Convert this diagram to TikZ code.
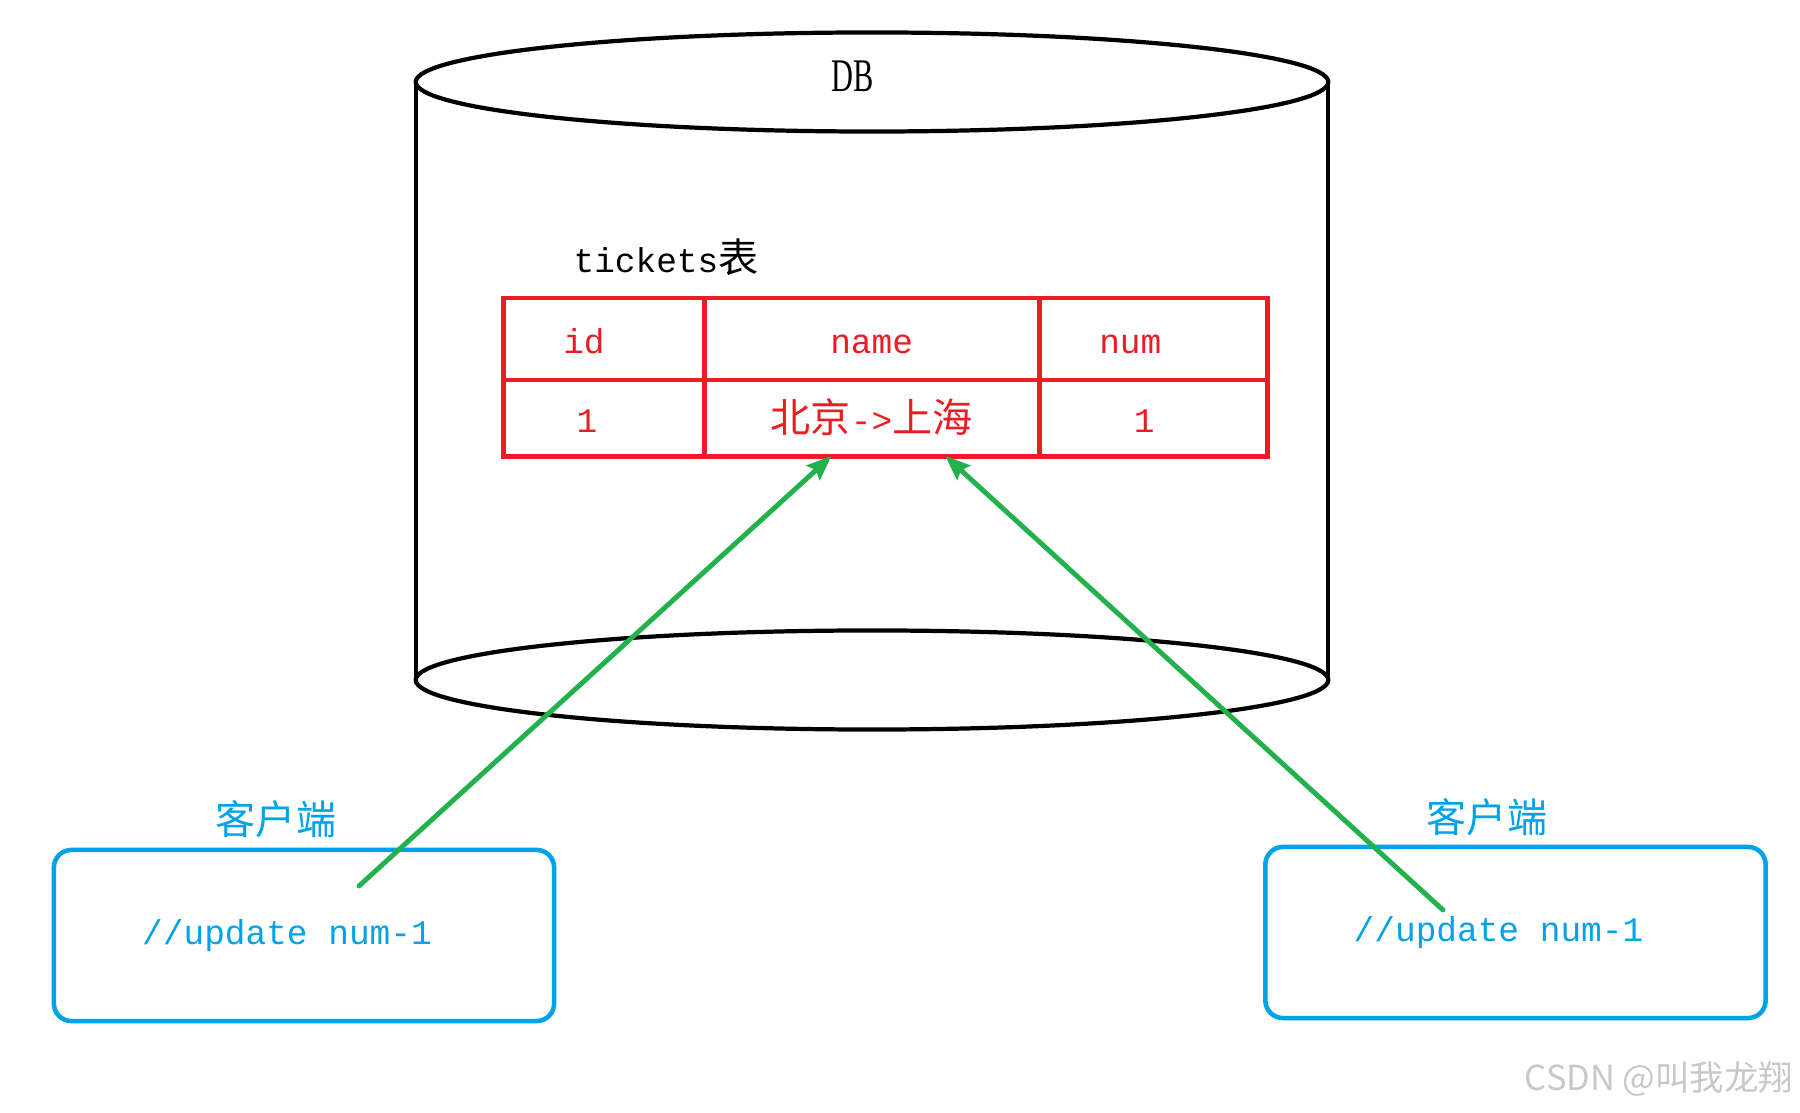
\documentclass[tikz,border=0pt]{standalone}
\usepackage{fontspec}
\usepackage{graphicx}
\setmainfont{Liberation Serif}
\setmonofont{Liberation Mono}
\newfontfamily\cjk{Noto Sans CJK SC}
\usetikzlibrary{arrows.meta,positioning,calc}
\definecolor{PaintRed}{HTML}{ED1C24}
\definecolor{PaintGreen}{HTML}{22B14C}
\definecolor{PaintBlue}{HTML}{00A2E8}
\definecolor{MarkGray}{HTML}{C8C8C8}
\newcommand{\latinsize}{\fontsize{9.8}{12}\selectfont}
\newcommand{\hansize}{\fontsize{11.4}{13}\selectfont}

\begin{document}
\begin{tikzpicture}[x=0.01cm,y=0.01cm,>=Stealth]
    \tikzset{
      cell/.style={draw=PaintRed,line width=1.4pt,text=PaintRed,outer sep=0pt,inner sep=0pt,
        minimum height=0.82cm,text height=10pt,text depth=1.8pt,font=\latinsize\ttfamily},
      client/.style={draw=PaintBlue,line width=1.3pt,rounded corners=5pt,text=PaintBlue,
        minimum width=5cm,minimum height=1.71cm,font=\latinsize\ttfamily},
      clientlabel/.style={text=PaintBlue,font=\hansize\cjk},
      update/.style={-{Stealth[length=7pt,width=5.5pt,inset=1pt]},PaintGreen,line width=1.4pt,line cap=round}
    }
    \useasboundingbox (0,0) rectangle (1800,1112);
    % database cylinder
    \draw[line width=1.2pt] (416,1030) -- (416,432);
    \draw[line width=1.2pt] (1328,1030) -- (1328,432);
    \draw[line width=1.2pt] (872,1030) ellipse [x radius=4.56cm,y radius=0.495cm];
    \draw[line width=1.2pt] (872,432) ellipse [x radius=4.56cm,y radius=0.495cm];
    \node (db) at (853,1036) {\fontsize{13.3}{14}\selectfont\scalebox{0.65}[1]{DB}};
    % tickets table
    \node[font=\latinsize\ttfamily] (caption) at (666,855) {tickets{\hansize\cjk 表}};
    \node[cell,minimum width=2cm] (hid) at (604,773) {id\hspace*{0.4cm}};
    \node[cell,minimum width=3.35cm,right=0pt of hid] (hname) {name};
    \node[cell,minimum width=2.28cm,right=0pt of hname] (hnum) {num\hspace*{0.46cm}};
    \node[cell,minimum width=2cm,minimum height=0.76cm,below=0pt of hid] (vid) {1\hspace*{0.34cm}};
    \node[cell,minimum width=3.35cm,minimum height=0.76cm,below=0pt of hname] (vname)
      {{\hansize\cjk 北京}->{\hansize\cjk 上海}};
    \node[cell,minimum width=2.28cm,minimum height=0.76cm,below=0pt of hnum] (vnum) {1\hspace*{0.18cm}};
    % clients
    \node[client] (lclient) at (304,176.5) {//update num-1\hspace*{0.34cm}};
    \node[clientlabel] (llabel) at (276,293) {客户端};
    \node[client] (rclient) at (1515.5,179.5) {//update num-1\hspace*{0.34cm}};
    \node[clientlabel] (rlabel) at (1487,295) {客户端};
    \coordinate (lfrom) at (359,226);
    \coordinate (rfrom) at (1443,202);
    \draw[update] (lfrom) -- ($(vname.south west)!0.38!(vname.south east)$);
    \draw[update] (rfrom) -- ($(vname.south west)!0.72!(vname.south east)$);
    \node[anchor=east,inner sep=0pt,text=MarkGray,font=\fontsize{9.8}{12}\selectfont\cjk] (mark) at (1794,33) {CSDN @叫我龙翔};
  \end{tikzpicture}
\end{document}
